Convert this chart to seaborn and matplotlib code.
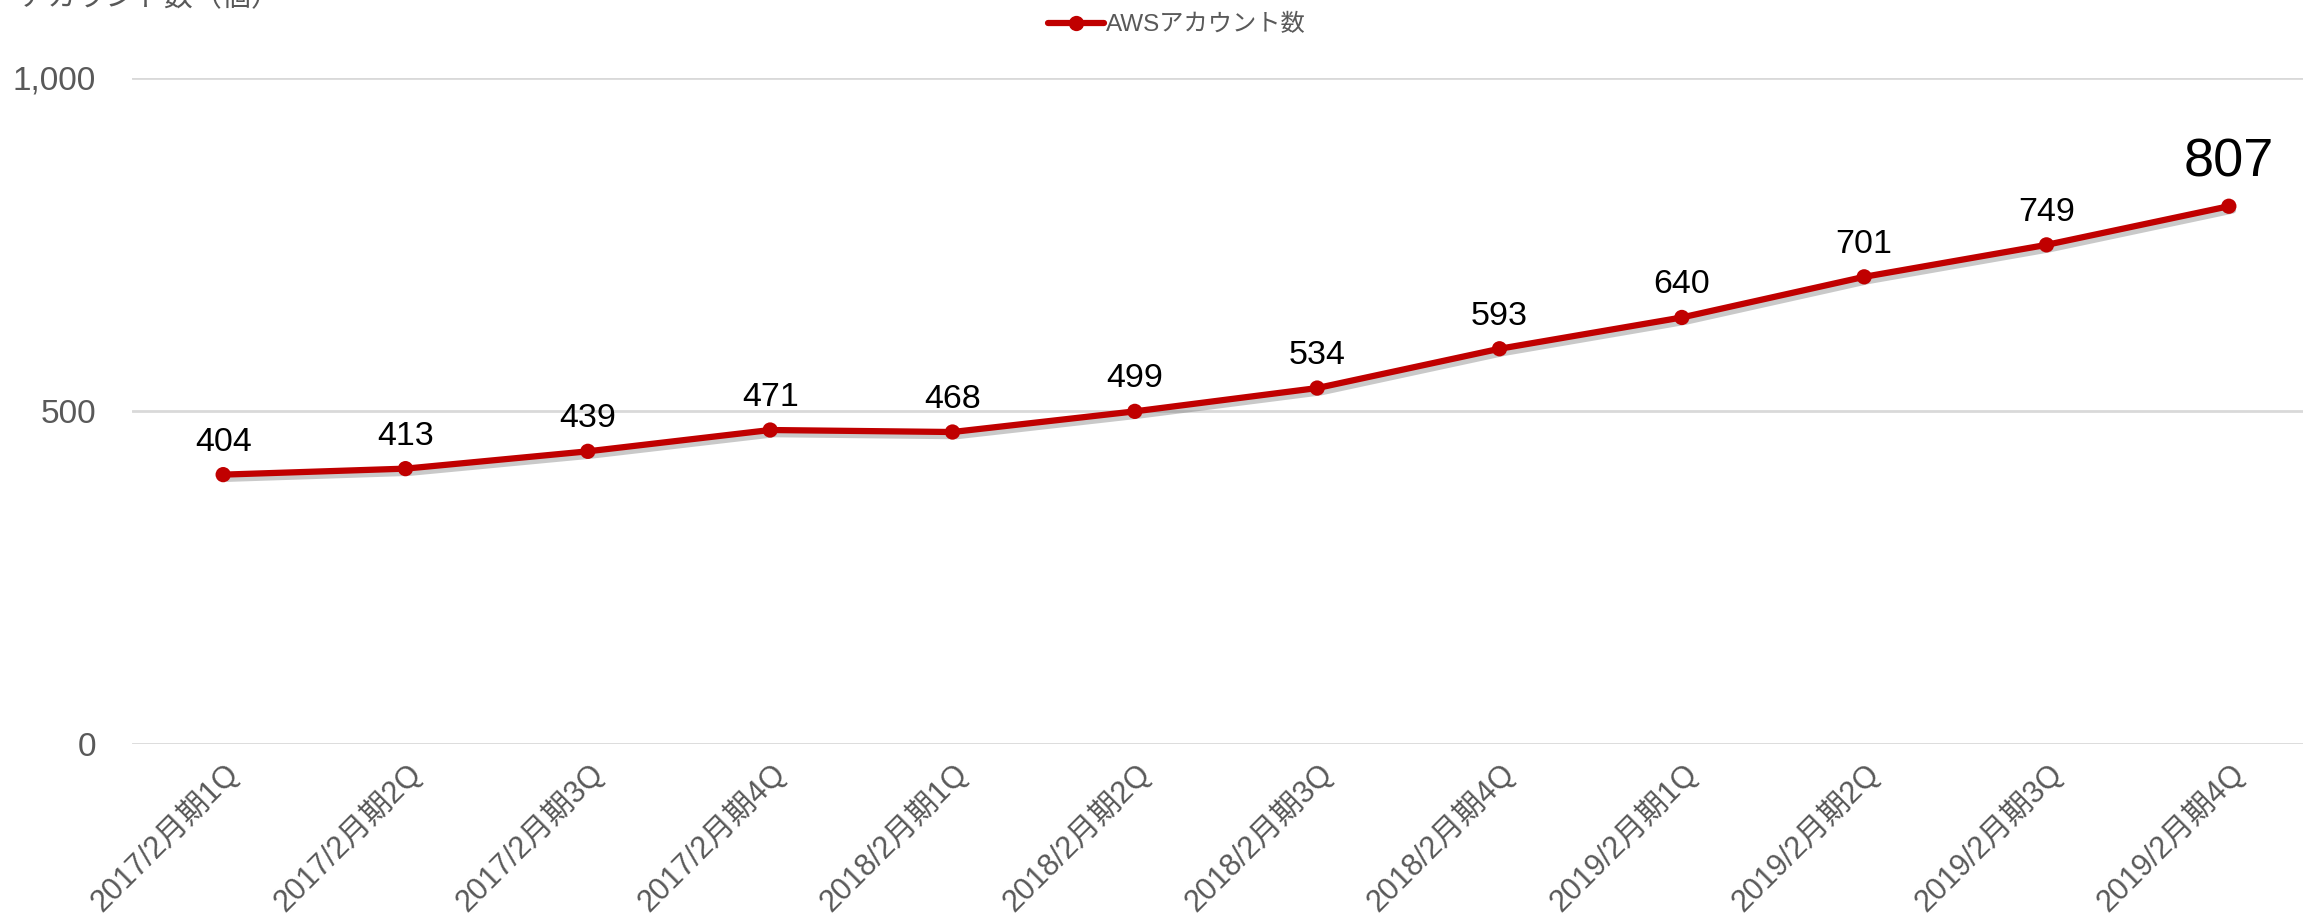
import matplotlib
matplotlib.use("Agg")
import matplotlib.pyplot as plt
import matplotlib.patheffects as pe
import seaborn as sns
import pandas as pd
import numpy as np

categories = ["2017/2月期1Q", "2017/2月期2Q", "2017/2月期3Q", "2017/2月期4Q",
              "2018/2月期1Q", "2018/2月期2Q", "2018/2月期3Q", "2018/2月期4Q",
              "2019/2月期1Q", "2019/2月期2Q", "2019/2月期3Q", "2019/2月期4Q"]
accounts = [404, 413, 439, 471, 468, 499, 534, 593, 640, 701, 749, 807]
series_name = "AWSアカウント数"
y_title = "アカウント数（個）"
y_ticks = [0, 500, 1000]

sns.set_theme(style="white")
FAM = ["Liberation Sans", "Noto Sans CJK JP", "DejaVu Sans"]
plt.rcParams["font.family"] = FAM

W, H = 2303, 923
fig = plt.figure(figsize=(W / 100, H / 100), dpi=100)
ax = fig.add_axes([132 / W, 1 - 743.7 / H, (2320 - 132) / W, (743.7 - 77.7) / H])

df = pd.DataFrame({"cat": categories, "pos": np.arange(len(categories)), "val": accounts})
RED = "#C00000"
sns.lineplot(data=df, x="pos", y="val", ax=ax, color=RED, linewidth=4.5,
             marker="o", markersize=11, markeredgewidth=0, label=series_name,
             legend=False)
line = ax.lines[0]
line.set_path_effects([pe.SimpleLineShadow(offset=(3, -3), shadow_color="#666666", alpha=0.35),
                       pe.Normal()])

ax.set_xlim(-0.5, len(categories) - 0.5)
ax.set_ylim(0, 1000)
ax.set_yticks(y_ticks)
ax.set_yticklabels([f"{v:,}" for v in y_ticks])
ax.set_xticks(df["pos"])
ax.set_xticklabels(categories, rotation=45, ha="right", rotation_mode="anchor")
ax.tick_params(axis="y", labelsize=24, labelcolor="#595959", length=0, pad=26)
ax.tick_params(axis="x", labelsize=22, labelcolor="#595959", length=0, pad=10)
ax.set_xlabel("")
ax.set_ylabel("")
for s in ax.spines.values():
    s.set_visible(False)
ax.yaxis.grid(True, color="#D9D9D9", linewidth=2)
ax.xaxis.grid(False)
ax.set_axisbelow(True)

for i, v in enumerate(accounts):
    last = i == len(accounts) - 1
    ax.annotate(f"{v}", (i, v), xytext=(0, 30 if last else 24), textcoords="offset pixels",
                ha="center", va="baseline", fontsize=39 if last else 24.5, color="black")

fig.text(18 / W, 1 - 6 / H, y_title, fontsize=21, color="#595959", ha="left", va="baseline")

handle = plt.Line2D([], [], color=RED, linewidth=4.5, marker="o", markersize=11, markeredgewidth=0)
fig.legend([handle], [series_name], loc="center", bbox_to_anchor=(1177 / W, 1 - 25 / H),
           frameon=False, fontsize=17.5, handlelength=2.3, handletextpad=0.1, labelcolor="#595959")

fig.savefig("out.png", dpi=100)
